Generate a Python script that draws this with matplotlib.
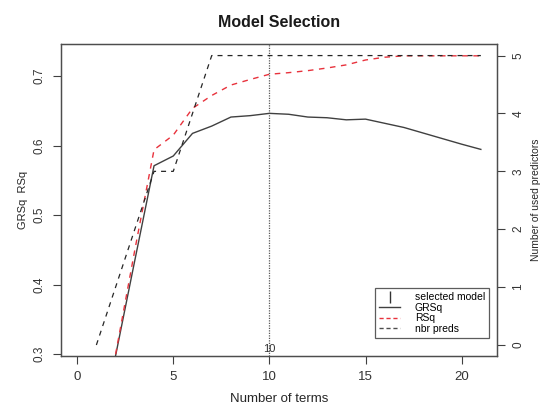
import matplotlib
matplotlib.use("Agg")
import matplotlib.pyplot as plt
import numpy as np
from matplotlib.lines import Line2D

plt.rcParams['font.family'] = ['Liberation Sans', 'DejaVu Sans']

# values
n_terms = [2, 3, 4, 5, 6, 7, 8, 9, 10, 11, 12, 13, 14, 15, 16, 17, 18, 19, 20, 21]
grsq = [0.298, 0.435, 0.571, 0.585, 0.6175, 0.628, 0.641, 0.643, 0.6463, 0.645,
        0.641, 0.640, 0.637, 0.638, 0.632, 0.626, 0.618, 0.610, 0.602, 0.5945]
rsq = [0.300, 0.450, 0.594, 0.615, 0.6535, 0.672, 0.687, 0.695, 0.7025, 0.7048,
       0.7077, 0.7115, 0.716, 0.723, 0.727, 0.729, 0.729, 0.729, 0.729, 0.729]
pred_terms = [1, 2, 3, 4, 5, 6, 7, 8, 9, 10, 11, 12, 13, 14, 15, 16, 17, 18, 19, 20, 21]
nbr_preds = [0, 1, 2, 3, 3, 4, 5, 5, 5, 5, 5, 5, 5, 5, 5, 5, 5, 5, 5, 5, 5]
selected = 10

fig = plt.figure(figsize=(5.42, 4.08), dpi=100)
ax = fig.add_axes([61/542, 1 - 356/408, 436/542, 312/408])
ax2 = ax.twinx()

dash = (0, (4, 4))
ax.axvline(selected, color='0.35', linestyle=(0, (1, 1)), linewidth=0.9)
ax.plot(n_terms, grsq, color='0.25', linewidth=1.0)
ax.plot(n_terms, rsq, color='#e8323c', linestyle=dash, linewidth=1.0)
ax2.plot(pred_terms, nbr_preds, color='0.15', linestyle=dash, linewidth=0.9)
ax.text(selected, 0.3077, str(selected), ha='center', va='center', fontsize=8, color='0.2')

ax.set_xlim(-0.84, 21.84)
ax.set_ylim(0.2975, 0.746)
ax2.set_ylim(-0.19, 5.2)

ax.set_xticks([0, 5, 10, 15, 20])
ax.set_yticks([0.3, 0.4, 0.5, 0.6, 0.7])
ax.set_yticklabels(['0.3', '0.4', '0.5', '0.6', '0.7'], rotation=90, va='center')
ax2.set_yticks([0, 1, 2, 3, 4, 5])
ax2.set_yticklabels(['0', '1', '2', '3', '4', '5'], rotation=90, va='center')

for a in (ax, ax2):
    a.tick_params(direction='out', length=6, width=0.8, labelsize=8.5, colors='0.25',
                  labelcolor='0.2', pad=5)
    for s in a.spines.values():
        s.set_color('0.3')
        s.set_linewidth(0.9)
ax.tick_params(axis='x', labelsize=9.5)

ax.set_title('Model Selection', fontsize=11.5, fontweight='bold', pad=12, color='0.1')
ax.set_xlabel('Number of terms', fontsize=9.5, labelpad=7, color='0.15')
ax.set_ylabel('GRSq  RSq', fontsize=8, labelpad=4, color='0.15')
ax2.set_ylabel('Number of used predictors', fontsize=7.5, labelpad=5, color='0.15')

handles = [
    Line2D([], [], color='0.2', linestyle='None', marker='|', markersize=9),
    Line2D([], [], color='0.25', linewidth=1.0),
    Line2D([], [], color='#e8323c', linestyle=(0, (3, 2)), linewidth=1.0),
    Line2D([], [], color='0.3', linestyle=(0, (3, 2)), linewidth=1.0),
]
leg = ax2.legend(handles, ['selected model', 'GRSq', 'RSq', 'nbr preds'],
                 loc='lower right', bbox_to_anchor=(0.982, 0.058), borderaxespad=0,
                 fontsize=7.5, frameon=True, fancybox=False, handlelength=2.0,
                 labelspacing=0.05, borderpad=0.4, handletextpad=1.4)
leg.get_frame().set_edgecolor('0.2')
leg.get_frame().set_linewidth(0.9)

fig.savefig('out.png', dpi=100)
